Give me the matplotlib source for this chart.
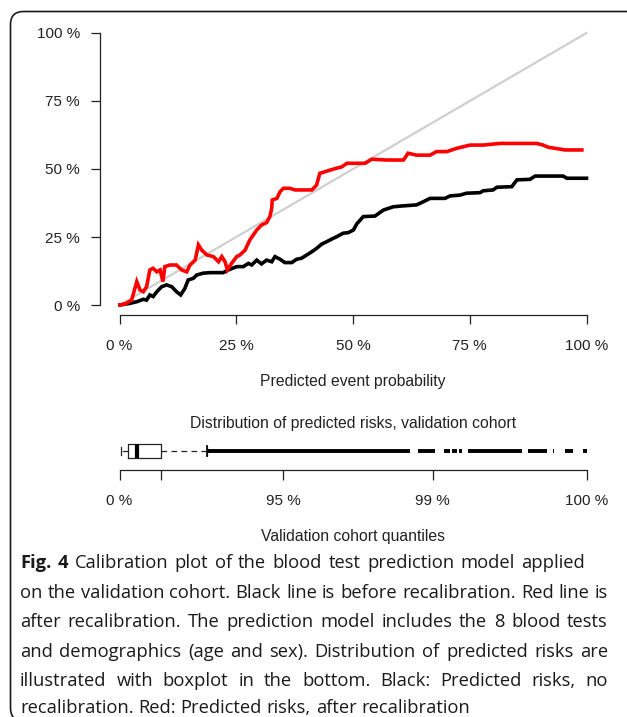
import matplotlib
matplotlib.use("Agg")
import matplotlib.pyplot as plt
from matplotlib.patches import FancyBboxPatch
from matplotlib.transforms import IdentityTransform

# ---------------- data ----------------
red_x = [0.001, 0.012, 0.026, 0.037, 0.044, 0.051, 0.058, 0.065, 0.072, 0.080, 0.087, 0.093,
         0.097, 0.108, 0.122, 0.133, 0.144, 0.151, 0.162, 0.169, 0.176, 0.187, 0.201, 0.212,
         0.219, 0.226, 0.231, 0.240, 0.251, 0.258, 0.269, 0.279, 0.294, 0.304, 0.315, 0.322,
         0.326, 0.327, 0.337, 0.344, 0.351, 0.365, 0.376, 0.412, 0.422, 0.429, 0.440, 0.451,
         0.465, 0.476, 0.487, 0.508, 0.526, 0.540, 0.572, 0.608, 0.618, 0.636, 0.665, 0.679,
         0.701, 0.722, 0.751, 0.779, 0.815, 0.893, 0.907, 0.918, 0.933, 0.954, 0.990]
red_y = [0.000, 0.004, 0.018, 0.086, 0.055, 0.049, 0.067, 0.129, 0.135, 0.122, 0.129, 0.086,
         0.141, 0.147, 0.147, 0.129, 0.122, 0.147, 0.165, 0.221, 0.202, 0.184, 0.178, 0.159,
         0.178, 0.159, 0.129, 0.153, 0.178, 0.184, 0.202, 0.239, 0.276, 0.294, 0.303, 0.325,
         0.356, 0.386, 0.392, 0.417, 0.429, 0.429, 0.423, 0.423, 0.441, 0.484, 0.490, 0.496,
         0.503, 0.508, 0.521, 0.521, 0.521, 0.536, 0.533, 0.533, 0.558, 0.551, 0.551, 0.564,
         0.564, 0.576, 0.588, 0.588, 0.594, 0.594, 0.588, 0.580, 0.576, 0.570, 0.570]

black_x = [0.001, 0.022, 0.037, 0.051, 0.058, 0.065, 0.072, 0.080, 0.090, 0.101, 0.112, 0.122,
           0.131, 0.140, 0.147, 0.158, 0.165, 0.179, 0.194, 0.222, 0.233, 0.251, 0.265, 0.276,
           0.283, 0.294, 0.304, 0.315, 0.326, 0.333, 0.344, 0.354, 0.369, 0.379, 0.390, 0.401,
           0.412, 0.422, 0.433, 0.444, 0.454, 0.465, 0.479, 0.490, 0.501, 0.508, 0.522, 0.547,
           0.565, 0.586, 0.604, 0.636, 0.651, 0.665, 0.697, 0.708, 0.729, 0.743, 0.772, 0.779,
           0.800, 0.808, 0.840, 0.851, 0.879, 0.890, 0.950, 0.958, 1.000]
black_y = [0.000, 0.006, 0.012, 0.021, 0.018, 0.037, 0.031, 0.049, 0.067, 0.074, 0.067, 0.049,
           0.037, 0.061, 0.092, 0.098, 0.110, 0.117, 0.119, 0.119, 0.129, 0.141, 0.141, 0.153,
           0.147, 0.165, 0.151, 0.165, 0.159, 0.178, 0.168, 0.156, 0.156, 0.168, 0.172, 0.184,
           0.196, 0.208, 0.224, 0.233, 0.242, 0.251, 0.264, 0.266, 0.276, 0.298, 0.325, 0.327,
           0.349, 0.361, 0.364, 0.368, 0.380, 0.392, 0.392, 0.401, 0.404, 0.411, 0.413, 0.420,
           0.423, 0.433, 0.435, 0.460, 0.462, 0.474, 0.474, 0.466, 0.466]

diag_x = [0.0, 1.0]
diag_y = [0.0, 1.0]

prob_ticks = [0.0, 0.25, 0.5, 0.75, 1.0]
prob_labels = ["0 %", "25 %", "50 %", "75 %", "100 %"]

box_stats = dict(whislo=0.003, q1=0.0185, med=0.038, q3=0.088, whishi=0.187)
quantile_pos = [0.0, 0.088, 0.350, 0.671, 1.0]
quantile_labels = ["0 %", "", "95 %", "99 %", "100 %"]
outlier_start = [0.187, 0.640, 0.695, 0.711, 0.728, 0.747, 0.875, 0.928, 0.954, 0.993]
outlier_end = [0.622, 0.676, 0.708, 0.722, 0.733, 0.861, 0.915, 0.931, 0.972, 1.000]

main_xlabel = "Predicted event probability"
box_title = "Distribution of predicted risks, validation cohort"
box_xlabel = "Validation cohort quantiles"
caption_lines = [
    [("Fig.", "bold"), ("4", "bold"), ("Calibration plot of the blood test prediction model applied", "normal")],
    [("on the validation cohort. Black line is before recalibration. Red line is", "normal")],
    [("after recalibration. The prediction model includes the 8 blood tests", "normal")],
    [("and demographics (age and sex). Distribution of predicted risks are", "normal")],
    [("illustrated with boxplot in the bottom. Black: Predicted risks, no", "normal")],
    [("recalibration. Red: Predicted risks, after recalibration", "normal")],
]

# ---------------- layout helpers ----------------
W, H = 627, 717
fig = plt.figure(figsize=(W / 100, H / 100), dpi=100)
fig.patch.set_facecolor("white")

def fx(px):
    return px / W

def fy(py):
    return 1 - py / H

CHART_FONT = "Liberation Sans"
CFS = 11
LFS = 11.3

# ---------------- main calibration axes ----------------
x0, x1 = 119.5, 586.5
y0, y1 = 305.0, 33.0
ax = fig.add_axes([fx(x0), fy(y0), fx(x1) - fx(x0), fy(y1) - fy(y0)])
ax.set_xlim(0, 1)
ax.set_ylim(0, 1)
ax.patch.set_alpha(0)
ax.plot(diag_x, diag_y, color="#cfcfcf", lw=1.6, zorder=1, clip_on=False)
ax.plot(black_x, black_y, color="black", lw=2.6, zorder=2, clip_on=False,
        solid_joinstyle="miter")
ax.plot(red_x, red_y, color="#ff0000", lw=2.6, zorder=3, clip_on=False,
        solid_joinstyle="miter")

for s in ["top", "right"]:
    ax.spines[s].set_visible(False)
ax.spines["left"].set_position(("outward", (x0 - 100) * 0.72))
ax.spines["bottom"].set_position(("outward", 10 * 0.72))
ax.spines["left"].set_bounds(0, 1)
ax.spines["bottom"].set_bounds(0, 1)
for s in ["left", "bottom"]:
    ax.spines[s].set_linewidth(0.9)
    ax.spines[s].set_color("#222222")
ax.set_xticks(prob_ticks)
ax.set_xticklabels(prob_labels)
ax.set_yticks(prob_ticks)
ax.set_yticklabels(prob_labels)
ax.tick_params(axis="both", direction="out", length=6.5, width=0.9, color="#222222",
               labelsize=CFS, labelcolor="#222222")
ax.tick_params(axis="x", pad=10.5)
ax.tick_params(axis="y", pad=8)
for lab in ax.get_xticklabels() + ax.get_yticklabels():
    lab.set_family(CHART_FONT)

fig.text(fx(353), fy(382), main_xlabel, ha="center", va="center",
         fontsize=LFS, family=CHART_FONT, color="#222222")

# ---------------- boxplot axes ----------------
by0, by1 = 470.0, 432.0
bax = fig.add_axes([fx(x0), fy(by0), fx(x1) - fx(x0), fy(by1) - fy(by0)])
bax.set_xlim(0, 1)
bax.set_ylim(0, 1)
bax.patch.set_alpha(0)
bax.bxp([dict(box_stats, fliers=[])], positions=[0.5], widths=0.38,
        orientation="horizontal", showfliers=False, capwidths=0.2,
        boxprops=dict(color="#222222", lw=0.9),
        medianprops=dict(color="black", lw=3.0, solid_capstyle="butt"),
        whiskerprops=dict(color="#222222", lw=0.9, linestyle=(0, (4.5, 3.5))),
        capprops=dict(color="#222222", lw=0.9), manage_ticks=False)
bax.hlines([0.5] * len(outlier_start), outlier_start, outlier_end, colors="black",
           lw=2.8, capstyle="butt", clip_on=False)
bax.plot([box_stats["whishi"]], [0.5], marker="|", ms=8, mew=1.2, color="black",
         clip_on=False)
for s in ["top", "right", "left"]:
    bax.spines[s].set_visible(False)
bax.spines["bottom"].set_bounds(0, 1)
bax.spines["bottom"].set_linewidth(0.9)
bax.spines["bottom"].set_color("#222222")
bax.set_yticks([])
bax.set_xticks(quantile_pos)
bax.set_xticklabels(quantile_labels)
bax.tick_params(axis="x", direction="out", length=7, width=0.9, color="#222222",
                labelsize=CFS, labelcolor="#222222", pad=10)
for lab in bax.get_xticklabels():
    lab.set_family(CHART_FONT)

fig.text(fx(353), fy(423), box_title, ha="center", va="center",
         fontsize=LFS, family=CHART_FONT, color="#222222")
fig.text(fx(353), fy(536), box_xlabel, ha="center", va="center",
         fontsize=LFS, family=CHART_FONT, color="#222222")

# ---------------- border ----------------
border = FancyBboxPatch((10.5, -4), 660, H - 11.5 + 4, boxstyle="round,pad=0,rounding_size=13",
                        transform=IdentityTransform(), facecolor="none",
                        edgecolor="#1a1a1a", lw=1.2, zorder=0)
fig.patches.append(border)

# ---------------- caption (justified) ----------------
CAP_FONT = "Open Sans"
fig.canvas.draw()
rend = fig.canvas.get_renderer()

def text_w(s, weight, size):
    t = fig.text(0, 0, s, fontsize=size, family=CAP_FONT, weight=weight)
    w = t.get_window_extent(rend).width
    t.remove()
    return w

left_px = 20.0
right_edges = [585.0, 608.0, 608.0, 608.0, 608.0, None]
ref_line = caption_lines[1][0][0]
cap_fs = 10 * (608.0 - left_px - 2) / text_w(ref_line, "normal", 10)
space_w = text_w("x x", "normal", cap_fs) - text_w("xx", "normal", cap_fs)
baselines = [568, 598, 627, 657, 686, 713]

for line, right_px, base in zip(caption_lines, right_edges, baselines):
    words = []
    for chunk, weight in line:
        for wd in chunk.split(" "):
            words.append((wd, weight))
    widths = [text_w(wd, wt, cap_fs) for wd, wt in words]
    if right_px is not None and len(words) > 1:
        gap = (right_px - left_px - sum(widths)) / (len(words) - 1)
    else:
        gap = space_w
    xp = left_px
    for (wd, wt), wdt in zip(words, widths):
        fig.text(fx(xp), fy(base), wd, ha="left", va="baseline", fontsize=cap_fs,
                 family=CAP_FONT, weight=wt, color="#1a1a1a")
        xp += wdt + gap

fig.savefig("out.png", dpi=100, facecolor="white")
